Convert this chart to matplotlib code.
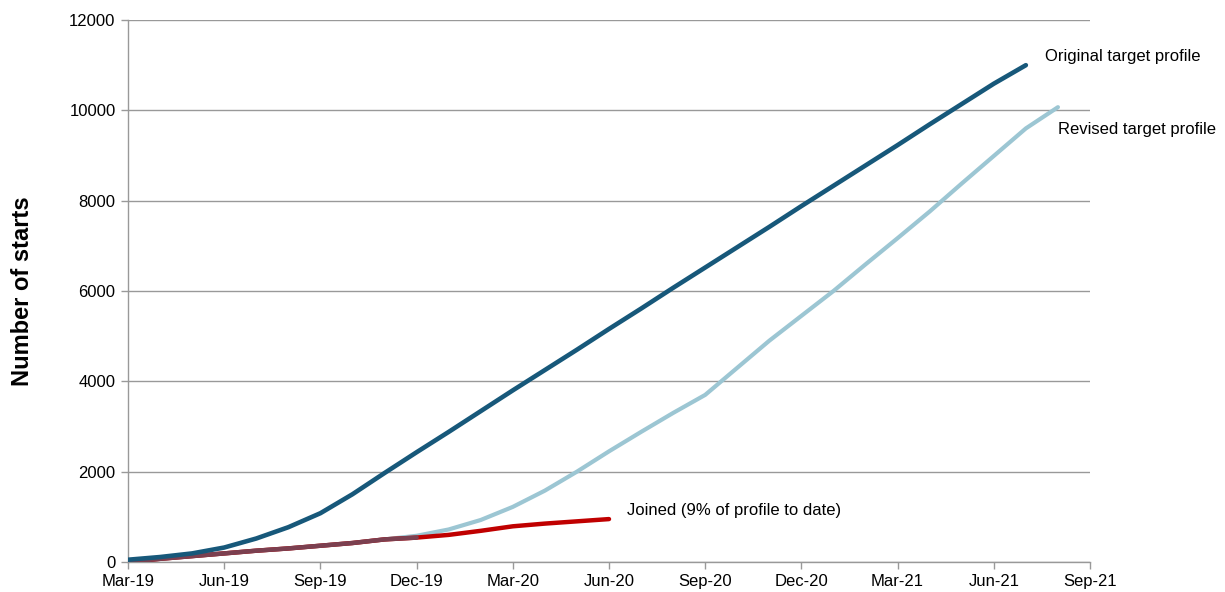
import matplotlib.pyplot as plt
import numpy as np

plt.rcParams['font.family'] = ['Liberation Sans', 'DejaVu Sans']

# Monthly cumulative starts, month 0 = Mar-19
original = [50, 110, 190, 320, 520, 770, 1080, 1500, 1970, 2430,
            2880, 3340, 3800, 4250, 4700, 5160, 5610, 6070, 6520, 6970,
            7420, 7880, 8330, 8780, 9230, 9690, 10140, 10590, 11000]
revised = [0, 70, 130, 190, 250, 300, 360, 420, 500, 580,
           720, 930, 1220, 1580, 2000, 2450, 2880, 3300, 3700, 4300,
           4900, 5450, 6000, 6590, 7170, 7760, 8380, 8990, 9600, 10070]
joined = [0, 70, 130, 190, 250, 300, 360, 420, 500, 540,
          600, 690, 790, 850, 900, 950]
n_overlap = 9  # months where joined and revised coincide

tick_months = list(range(0, 31, 3))
tick_labels = ['Mar-19', 'Jun-19', 'Sep-19', 'Dec-19', 'Mar-20', 'Jun-20',
               'Sep-20', 'Dec-20', 'Mar-21', 'Jun-21', 'Sep-21']
y_ticks = [0, 2000, 4000, 6000, 8000, 10000, 12000]

dark_blue = '#17587A'
light_blue = '#9CC6D3'
red = '#C00000'

fig = plt.figure(figsize=(12.25, 5.92), dpi=100)
ax = fig.add_axes([0.1045, 0.0507, 0.7853, 0.9155])

ax.plot(np.arange(len(revised)), revised, color=light_blue, lw=3.0,
        solid_capstyle='round', zorder=3)
ax.plot(np.arange(len(joined)), joined, color=red, lw=3.2,
        solid_capstyle='round', zorder=4)
ax.plot(np.arange(n_overlap + 1), joined[:n_overlap + 1], color='#7B4050',
        lw=3.2, solid_capstyle='round', zorder=4)
ax.plot(np.arange(len(original)), original, color=dark_blue, lw=3.3,
        solid_capstyle='round', zorder=5)

ax.annotate('Original target profile', xy=(len(original) - 1, original[-1]),
            xytext=(14, 6.5), textcoords='offset points',
            fontsize=12, va='center', ha='left')
ax.annotate('Revised target profile', xy=(len(revised) - 1, revised[-1]),
            xytext=(0, -16), textcoords='offset points',
            fontsize=12, va='center', ha='left')
ax.annotate('Joined (9% of profile to date)', xy=(len(joined) - 1, joined[-1]),
            xytext=(13, 6), textcoords='offset points',
            fontsize=12, va='center', ha='left')

ax.set_xlim(0, 30)
ax.set_ylim(0, 12000)
ax.set_xticks(tick_months)
ax.set_xticklabels(tick_labels, fontsize=12)
ax.set_yticks(y_ticks)
ax.set_yticklabels([str(v) for v in y_ticks], fontsize=12)

ax.yaxis.grid(True, color='#999999', lw=1)
ax.set_axisbelow(True)
for side in ['top', 'right']:
    ax.spines[side].set_visible(False)
for side in ['left', 'bottom']:
    ax.spines[side].set_color('#999999')
    ax.spines[side].set_linewidth(1)
ax.tick_params(axis='both', color='#999999', length=5, width=1, direction='out')
ax.tick_params(axis='y', pad=4)

ax.set_ylabel('Number of starts', fontsize=17, fontweight='bold')
ax.yaxis.set_label_coords(-0.098, 0.5)

fig.savefig('out.png', dpi=100, facecolor='white')
